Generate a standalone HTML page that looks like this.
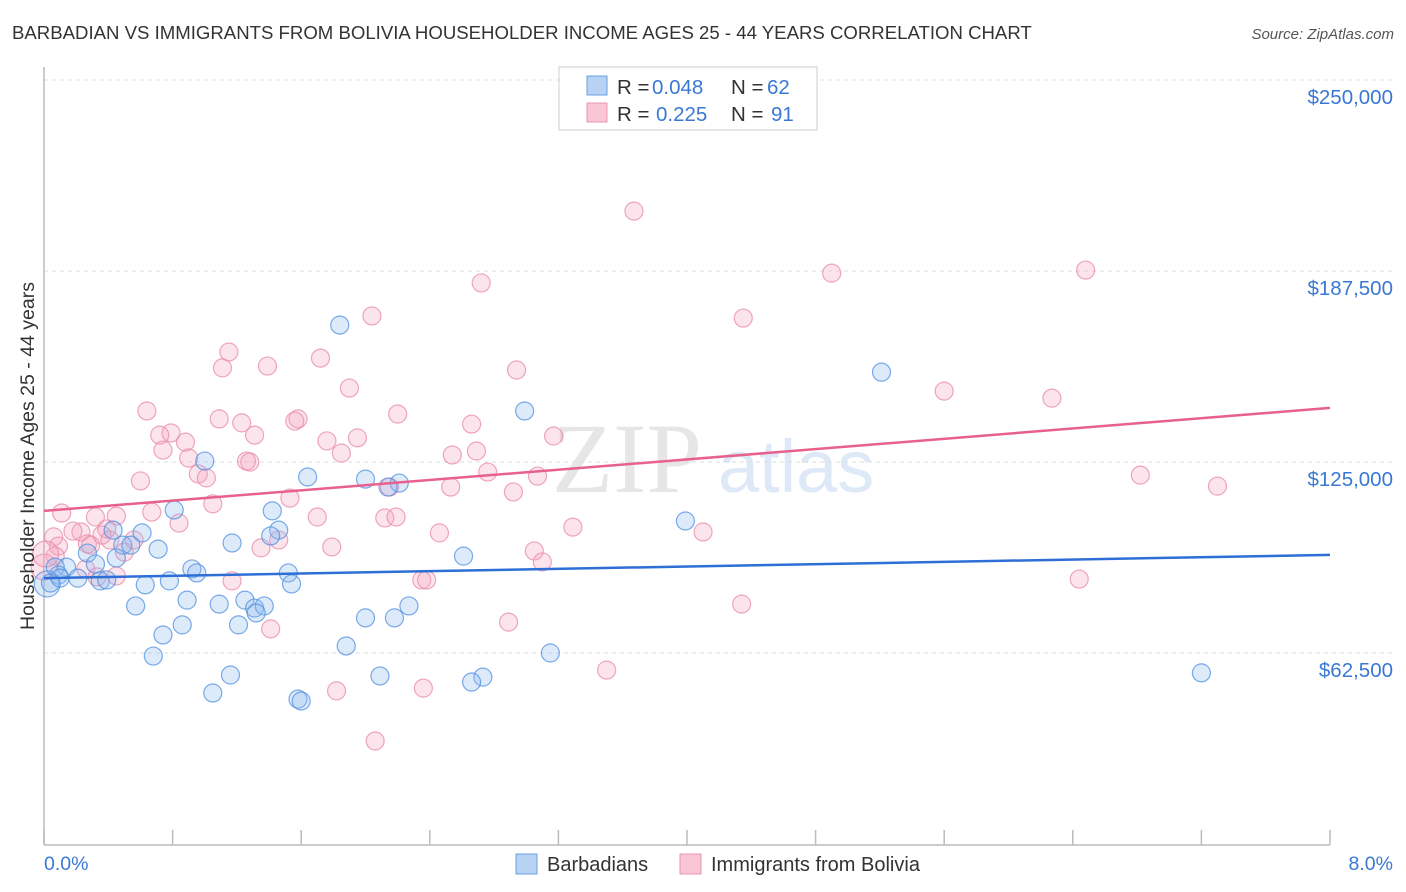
<!DOCTYPE html>
<html><head><meta charset="utf-8"><style>
body{margin:0;background:#fff;font-family:"Liberation Sans",sans-serif;}
svg{display:block}
</style></head><body>
<svg id="chart" width="1406" height="892">
<text x="12" y="39" font-size="18.6" fill="#333">BARBADIAN VS IMMIGRANTS FROM BOLIVIA HOUSEHOLDER INCOME AGES 25 - 44 YEARS CORRELATION CHART</text>
<text x="1394" y="39" font-size="15" fill="#555" font-style="italic" text-anchor="end">Source: ZipAtlas.com</text>
<g>
<text x="552" y="492" font-family="Liberation Serif,serif" font-size="100" fill="#e6e6e6">ZIP</text>
<text x="718" y="492" font-size="74" fill="#dde9f7">atlas</text>
</g>
<g id="grid"></g>
<line x1="44" y1="67" x2="44" y2="845" stroke="#bbb" stroke-width="1.5"/>
<line x1="44" y1="845" x2="1330" y2="845" stroke="#bbb" stroke-width="1.5"/>
<g id="xticks"></g>
<g id="points"></g>
<g id="trend"></g>
<text transform="translate(34,456) rotate(-90)" text-anchor="middle" font-size="19.5" fill="#333">Householder Income Ages 25 - 44 years</text>
<text x="44" y="870" font-size="19.5" fill="#3a78d4">0.0%</text>
<text x="1393" y="870" font-size="19.5" fill="#3a78d4" text-anchor="end">8.0%</text>
<g font-size="20.5">
<rect x="559" y="67" width="258" height="63" fill="#fff" stroke="#ccc"/>
<rect x="587" y="76" width="20" height="19" fill="#b8d2f4" stroke="#6a9fe0"/>
<rect x="587" y="103" width="20" height="19" fill="#f9c6d6" stroke="#e897b2"/>
<text x="617" y="94" fill="#333">R =</text>
<text x="652" y="94" fill="#3a78d4">0.048</text>
<text x="731" y="94" fill="#333">N =</text>
<text x="767" y="94" fill="#3a78d4">62</text>
<text x="617" y="121" fill="#333">R =</text>
<text x="656" y="121" fill="#3a78d4">0.225</text>
<text x="731" y="121" fill="#333">N =</text>
<text x="771" y="121" fill="#3a78d4">91</text>
</g>
<g>
<rect x="516" y="854" width="21" height="20" fill="#b8d2f4" stroke="#6a9fe0"/>
<text x="547" y="871" font-size="20" fill="#333">Barbadians</text>
<rect x="680" y="854" width="21" height="20" fill="#f9c6d6" stroke="#e897b2"/>
<text x="711" y="871" font-size="20" fill="#333">Immigrants from Bolivia</text>
</g>
</svg>
<script>
const yTicks=[62.5,125,187.5,250];
const yTickLabels=["$62,500","$125,000","$187,500","$250,000"];
const xTicks=[0,0.8,1.6,2.4,3.2,4,4.8,5.6,6.4,7.2,8];
const blueX=[1.84,5.21,2.99,1.00,1.64,2.00,2.21,2.14,0.81,1.42,0.43,0.61,1.46,1.41,3.99,0.49,0.54,1.17,0.71,0.27,0.45,2.61,0.32,0.14,0.07,0.92,0.95,1.52,0.09,0.21,0.35,0.39,0.63,0.78,1.54,0.89,1.09,1.25,1.31,1.37,0.57,1.32,2.27,2.00,2.18,0.86,1.21,0.74,1.88,0.68,3.15,1.16,2.09,2.73,2.66,7.20,1.05,1.58,1.60,0.02,0.04,0.10];
const blueY=[169.8,154.4,141.7,125.3,120.1,119.4,118.1,116.8,109.3,109.0,102.7,101.8,102.7,100.8,105.7,97.8,97.8,98.5,96.5,95.2,93.6,94.2,91.6,90.6,90.6,90.0,88.7,88.7,88.0,87.0,86.1,86.4,84.8,86.1,85.1,79.8,78.5,79.8,77.2,77.9,77.9,75.6,77.9,74.0,74.0,71.7,71.7,68.4,64.8,61.5,62.5,55.3,55.0,54.6,53.0,56.0,49.4,47.4,46.8,85.1,85.4,87.0];
const pinkX=[3.67,2.72,4.90,6.48,2.04,4.35,1.15,1.39,1.11,1.72,2.94,1.90,5.60,6.27,0.64,2.20,1.09,1.58,1.56,2.66,1.23,0.79,0.72,0.88,1.31,1.76,1.95,3.17,0.74,1.85,2.69,2.54,0.90,1.26,1.28,0.96,1.01,0.60,2.76,3.07,2.53,6.82,7.30,2.15,1.53,2.92,1.05,0.45,0.32,0.67,0.11,0.84,1.70,2.12,2.19,3.29,0.23,0.39,0.18,0.36,0.56,2.46,4.10,0.06,1.35,1.46,0.09,0.50,0.27,1.79,3.05,3.10,0.07,0.45,0.26,0.33,1.17,2.35,2.38,6.44,4.34,2.89,1.41,3.50,2.36,1.82,2.06,0.00,0.01,0.41,0.29];
const pinkY=[207.1,183.6,186.8,187.8,172.8,172.1,161.0,156.4,155.8,159.0,155.1,149.2,148.2,145.9,141.7,140.7,139.1,139.1,138.4,137.4,137.8,134.5,133.8,131.5,133.8,131.9,132.9,133.5,128.9,127.9,128.6,127.3,126.3,125.3,125.0,121.1,119.8,118.8,121.7,120.4,116.8,120.7,117.1,116.8,113.2,115.2,111.3,107.3,107.0,108.6,108.3,105.0,107.0,106.7,107.0,103.7,102.1,103.1,102.4,101.1,99.5,101.8,102.1,100.5,96.9,99.5,97.5,95.5,98.2,97.2,95.9,92.3,94.2,87.7,90.0,87.4,86.1,86.4,86.4,86.7,78.5,72.6,70.4,56.9,51.0,50.1,33.7,90.6,94.9,99.5,97.8];
const blueTrend=[87.0,94.6];
const pinkTrend=[109.0,142.7];
const NS="http://www.w3.org/2000/svg";
function sx(v){return 44+v*(1286/8);}
function sy(v){return 653-(v-62.5)*(191/62.5);}
function mk(tag,attrs,parent){const e=document.createElementNS(NS,tag);for(const k in attrs)e.setAttribute(k,attrs[k]);parent.appendChild(e);return e;}
const grid=document.getElementById('grid');
yTicks.forEach((t,i)=>{
  const l=mk('line',{x1:44,x2:1394,y1:sy(t),y2:sy(t),stroke:'#ddd','stroke-dasharray':'4,4'},grid);
  
  
  const tx=mk('text',{x:1393,y:sy(t)+24,'text-anchor':'end','font-size':20.5,fill:'#3a78d4'},grid);
  tx.textContent=yTickLabels[i];
  
  
});
const xt=document.getElementById('xticks');
xTicks.forEach(t=>{
  const l=mk('line',{x1:sx(t),x2:sx(t),y1:830,y2:845,stroke:'#bbb','stroke-width':1.5},xt);
  
  
});
const pts=document.getElementById('points');
function drawSeries(xs,ys,fill,stroke,name){
  xs.forEach((x,i)=>{
    const big=(x<0.03);
    const c=mk('circle',{cx:sx(x),cy:sy(ys[i]),r:big?13:9,fill:fill,'fill-opacity':0.3,stroke:stroke,'stroke-opacity':0.75,'stroke-width':1.2},pts);
    
    
  });
}
drawSeries(pinkX,pinkY,'#f4a7bf','#e88aa8','bolivia-point');
drawSeries(blueX,blueY,'#8fb8ee','#4f8fe0','barbadian-point');
const tr=document.getElementById('trend');
const bl=mk('line',{x1:sx(0),y1:sy(blueTrend[0]),x2:sx(8),y2:sy(blueTrend[1]),stroke:'#2d6fd6','stroke-width':2.5},tr);


const pl=mk('line',{x1:sx(0),y1:sy(pinkTrend[0]),x2:sx(8),y2:sy(pinkTrend[1]),stroke:'#e8608c','stroke-width':2.5},tr);


</script>
</body></html>
